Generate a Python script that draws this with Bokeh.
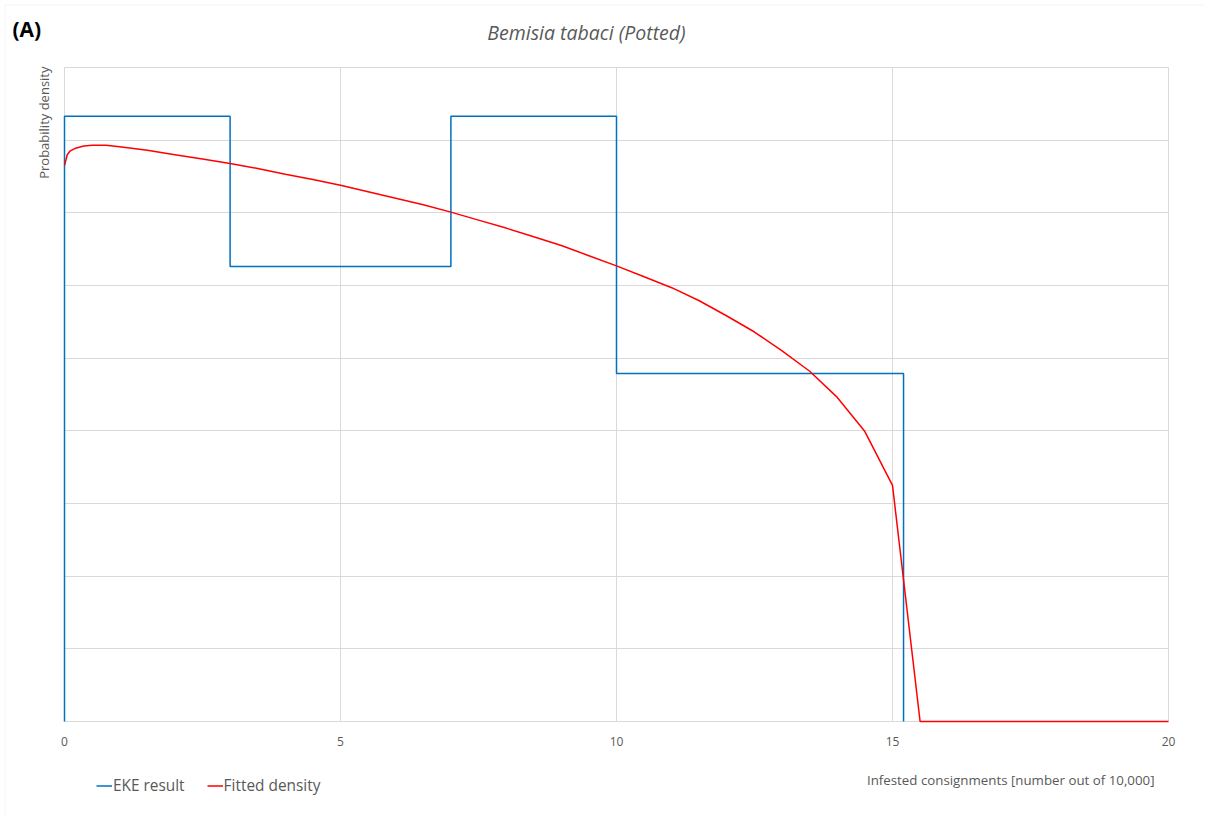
import numpy as np
from bokeh.plotting import figure
from bokeh.models import (Range1d, FixedTicker, Label, Legend, LegendItem,
                          Grid, BoxAnnotation)
from bokeh.embed import file_html
from bokeh.resources import INLINE

# ---- data ----
x_ticks = [0, 5, 10, 15, 20]
y_grid = [0, 1, 2, 3, 4, 5, 6, 7, 8, 9]
eke_edges = [0, 3, 7, 10, 15.2]
eke_density = [8.33, 6.26, 8.33, 4.79]

fit_x = [0, 0.05, 0.1, 0.2, 0.35, 0.5, 0.75, 1.0, 1.5, 2.0, 2.5, 3.0, 3.5, 4.0,
         4.5, 5.0, 5.5, 6.0, 6.5, 7.0, 7.5, 8.0, 8.5, 9.0, 9.5, 10.0, 10.5, 11.0,
         11.5, 12.0, 12.5, 13.0, 13.5, 14.0, 14.5, 15.0, 15.5, 20.0]
fit_y = [7.65, 7.80, 7.85, 7.89, 7.92, 7.93, 7.93, 7.91, 7.86, 7.80, 7.74, 7.68,
         7.61, 7.53, 7.46, 7.38, 7.29, 7.20, 7.11, 7.01, 6.90, 6.79, 6.67, 6.55,
         6.41, 6.27, 6.12, 5.97, 5.79, 5.58, 5.36, 5.10, 4.82, 4.46, 3.99, 3.25,
         0.0, 0.0]

title_text = "Bemisia tabaci (Potted)"
panel_text = "(A)"
y_label = "Probability density"
x_label = "Infested consignments [number out of 10,000]"

# step coordinates for EKE result
step_x, step_y = [eke_edges[0]], [0]
for i, d in enumerate(eke_density):
    step_x += [eke_edges[i], eke_edges[i + 1]]
    step_y += [d, d]
step_x.append(eke_edges[-1])
step_y.append(0)

FONT = "Open Sans"
GREY = "#595959"
GRID = "#d9d9d9"

# ---- layout: plot area occupies pixels 64..1168 (x) and 67..721 (y) ----
W, H = 1205, 816
PL, PR, PT, PB = 64, 1168, 67, 721
XMIN, XMAX = x_ticks[0], x_ticks[-1]
YMIN, YMAX = y_grid[0], y_grid[-1]
sx = (PR - PL) / (XMAX - XMIN)
sy = (PB - PT) / (YMAX - YMIN)
def dx(px):
    return XMIN + (px - PL) / sx
def dy(py):
    return YMIN + (PB - py) / sy

p = figure(width=W, height=H, output_backend="svg", toolbar_location=None,
           x_range=Range1d(dx(0), dx(W)), y_range=Range1d(dy(H), dy(0)),
           x_axis_type=None, y_axis_type=None, min_border=0,
           min_border_left=0, min_border_right=0, min_border_top=0,
           min_border_bottom=0, outline_line_color=None)

p.add_layout(Grid(dimension=0, ticker=FixedTicker(ticks=x_ticks),
                  bounds=(XMIN, XMAX), cross_bounds=(YMIN, YMAX),
                  grid_line_color=GRID, grid_line_width=1))
p.add_layout(Grid(dimension=1, ticker=FixedTicker(ticks=y_grid),
                  bounds=(YMIN, YMAX), cross_bounds=(XMIN, XMAX),
                  grid_line_color=GRID, grid_line_width=1))

# outer chart border
p.add_layout(BoxAnnotation(left=dx(4.5), right=dx(W + 20), top=dy(4.5),
                           bottom=dy(H + 20), fill_alpha=0,
                           line_color=GRID, line_width=1))

r1 = p.line(step_x, step_y, line_color="#0070C0", line_width=1.5)
r2 = p.line(fit_x, fit_y, line_color="#FF0000", line_width=1.5)

# x tick labels
for t in x_ticks:
    p.add_layout(Label(x=t, y=YMIN, text=str(t), text_font=FONT,
                       text_font_size="12px", text_color=GREY,
                       text_align="center", text_baseline="middle",
                       y_offset=-20))

legend = Legend(items=[LegendItem(label="EKE result", renderers=[r1]),
                       LegendItem(label="Fitted density", renderers=[r2])],
                location=(96, 20), orientation="horizontal",
                padding=0, margin=0, spacing=22, label_standoff=1,
                glyph_width=16, glyph_height=19, label_height=19,
                border_line_color=None, background_fill_alpha=0,
                label_text_font=FONT, label_text_font_size="15.4px",
                label_text_color=GREY)
p.add_layout(legend, "center")

p.add_layout(Label(x=dx(12), y=dy(14), text=panel_text, text_font=FONT,
                   text_font_size="21px", text_font_style="bold",
                   text_color="black", text_baseline="top", text_align="left"))
p.add_layout(Label(x=dx(586), y=dy(32), text=title_text, text_font=FONT,
                   text_font_size="19.5px", text_font_style="italic",
                   text_color=GREY, text_baseline="middle", text_align="center"))
p.add_layout(Label(x=dx(43), y=dy(66), text=y_label, text_font=FONT,
                   text_font_size="13px", text_color=GREY, angle=np.pi / 2,
                   text_baseline="middle", text_align="right"))
p.add_layout(Label(x=dx(1154), y=dy(779), text=x_label, text_font=FONT,
                   text_font_size="13.3px", text_color=GREY,
                   text_baseline="middle", text_align="right"))

open("out.html", "w").write(file_html(p, INLINE))
